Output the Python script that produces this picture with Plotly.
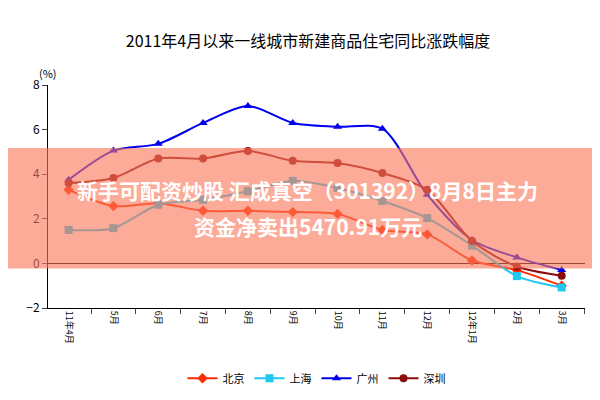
import plotly.graph_objects as go

months = ["11年4月","5月","6月","7月","8月","9月","10月","11月","12月","12年1月","2月","3月"]
beijing = [3.3,2.57,2.7,2.36,2.36,2.3,2.22,1.5,1.3,0.13,-0.3,-1.0]
shanghai = [1.5,1.58,2.63,2.85,3.24,3.7,3.38,2.8,2.03,0.8,-0.57,-1.08]
guangzhou = [3.75,5.06,5.36,6.3,7.06,6.3,6.13,6.04,3.08,1.05,0.27,-0.3]
shenzhen = [3.6,3.83,4.7,4.7,5.04,4.6,4.5,4.05,3.3,1.0,-0.14,-0.55]

fig = go.Figure()
specs = [("北京", beijing, "#ff2a00", "diamond"),
         ("上海", shanghai, "#1ec8f0", "square"),
         ("广州", guangzhou, "#0000ee", "triangle-up"),
         ("深圳", shenzhen, "#8b0a0a", "circle")]
for name, vals, col, sym in specs:
    fig.add_trace(go.Scatter(x=months, y=vals, name=name, mode="lines+markers",
                             line=dict(color=col, width=2, shape="spline", smoothing=0.8),
                             marker=dict(color=col, symbol=sym, size=8)))

fig.update_layout(
    width=600, height=400, paper_bgcolor="white", plot_bgcolor="white",
    margin=dict(l=40, r=23, t=77, b=100, autoexpand=False),
    font=dict(family="Noto Sans CJK SC", color="black"),
    title=dict(text="2011年4月以来一线城市新建商品住宅同比涨跌幅度", x=0.5, y=0.93,
               xanchor="center", font=dict(size=16)),
    showlegend=True,
    legend=dict(orientation="h", x=0.5, xanchor="center", y=-0.25, yanchor="top",
                font=dict(size=11)),
    xaxis=dict(range=[-0.46, 11.52], showline=True, linecolor="black", ticks="outside",
               tickson="boundaries", tickangle=90, tickfont=dict(size=9), showgrid=False,
               zeroline=False, automargin=False),
    yaxis=dict(range=[-2, 8], dtick=2, showline=True, linecolor="black", ticks="outside",
               showgrid=False, zeroline=True, zerolinecolor="black", zerolinewidth=1,
               tickfont=dict(size=12), automargin=False),
    shapes=[dict(type="rect", xref="paper", yref="y", x0=-0.08, x1=1.05, y0=-0.23, y1=5.18,
                 fillcolor="rgba(250,120,90,0.62)", line=dict(width=0), layer="above")],
    annotations=[
        dict(text="(%)", xref="paper", yref="paper", x=-0.02, y=1.1, showarrow=False,
             font=dict(size=11)),
        dict(text="<b>新手可配资炒股 汇成真空（301392）8月8日主力</b>", xref="paper", yref="y",
             x=0.484, y=3.3, showarrow=False, font=dict(size=21, color="white")),
        dict(text="<b>资金净卖出5470.91万元</b>", xref="paper", yref="y",
             x=0.484, y=1.67, showarrow=False, font=dict(size=21, color="white")),
    ],
)
fig.write_html("out.html")
